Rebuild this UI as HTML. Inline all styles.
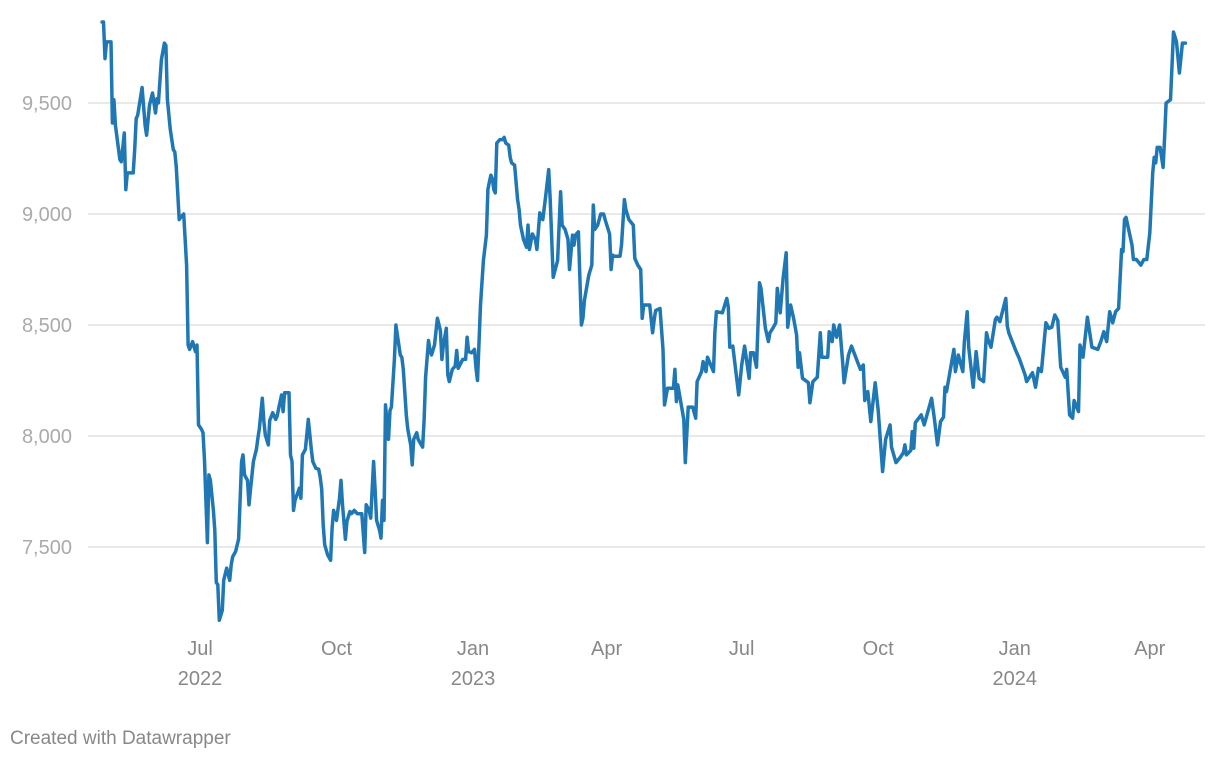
<!DOCTYPE html>
<html><head><meta charset="utf-8">
<style>
body{margin:0;background:#fff;width:1220px;height:760px;overflow:hidden;font-family:"Liberation Sans",Arial,sans-serif;}
svg text{font-family:"Liberation Sans",Arial,sans-serif;}
</style></head>
<body>
<svg id="chart" width="1220" height="760" xmlns="http://www.w3.org/2000/svg">
<g id="grid"></g>
<g id="yaxis"></g>
<g id="xaxis"></g>
<g id="series"></g>
<text x="10" y="744" font-size="19" fill="#888">Created with Datawrapper</text>
</svg>
<script>
// days since 2022-07-01
const days = [-66,-65,-64,-63,-60,-59,-58,-57,-54,-53,-51,-50,-49,-45,-44,-43,-42,-39,-37,-36,-34,-32,-30,-29,-28,-26,-24,-23,-22,-20,-18,-17,-16,-14,-13,-11,-9,-8,-7,-5,-3,-2,-1,1,2,3,5,6,7,9,10,11,12,13,15,16,18,20,21,22,24,26,28,29,30,32,33,34,36,38,39,40,42,43,44,46,47,49,51,52,53,55,56,57,59,60,61,62,63,64,67,68,69,71,73,75,76,78,80,81,82,83,84,86,88,89,90,92,94,95,96,98,99,101,102,104,106,107,109,111,112,114,115,117,118,119,121,122,123,124,125,127,128,129,131,132,135,136,137,139,140,142,143,144,146,147,150,151,152,154,155,156,158,160,162,163,164,166,167,168,170,172,173,174,177,179,180,181,183,185,186,187,189,191,193,194,195,196,197,198,199,200,202,204,205,206,208,209,210,212,214,215,216,218,220,221,222,224,226,227,229,231,233,235,236,238,241,243,244,246,248,249,251,252,253,255,257,258,259,262,264,265,266,268,270,272,273,276,277,278,279,283,284,286,287,289,292,293,295,297,298,299,301,303,305,306,307,310,312,313,315,319,320,321,322,326,327,329,332,334,335,338,339,341,342,346,347,348,352,355,356,357,359,363,365,367,370,371,373,375,377,378,381,383,384,386,388,389,391,393,395,396,398,400,402,403,404,406,410,411,413,416,418,419,423,424,426,427,429,431,433,434,437,439,443,445,447,448,450,452,455,457,460,462,465,466,469,472,474,475,476,479,480,481,482,486,488,493,495,497,499,501,502,503,508,509,511,514,515,517,518,521,523,525,528,530,531,533,536,537,539,543,544,545,550,552,556,557,561,563,565,567,570,572,574,576,578,580,583,584,586,588,589,592,593,595,598,601,605,607,609,611,613,615,617,619,621,622,623,624,628,629,631,634,636,638,640,642,643,644,645,647,649,650,651,654,656,658,660,662,664,665];
const values = [9865,9865,9700,9775,9775,9410,9515,9400,9245,9235,9365,9110,9185,9185,9290,9430,9445,9570,9400,9355,9490,9545,9455,9520,9500,9695,9770,9760,9515,9380,9290,9280,9210,8975,8985,9000,8770,8410,8390,8425,8380,8410,8050,8030,8015,7890,7520,7825,7800,7665,7575,7340,7330,7170,7215,7350,7405,7350,7420,7455,7480,7535,7885,7915,7825,7800,7690,7760,7885,7940,7990,8035,8170,8070,8005,7960,8070,8105,8075,8090,8125,8185,8110,8195,8195,8195,7915,7885,7665,7710,7765,7720,7915,7940,8075,7940,7885,7855,7850,7815,7760,7600,7510,7465,7440,7585,7665,7620,7720,7800,7690,7535,7615,7660,7650,7665,7650,7650,7650,7475,7690,7665,7630,7885,7760,7620,7575,7540,7710,7620,8140,7985,8115,8130,8345,8500,8365,8355,8300,8095,8030,7960,7870,7985,8015,7985,7950,8070,8265,8430,8385,8365,8410,8530,8475,8345,8410,8485,8275,8245,8300,8315,8385,8305,8345,8345,8445,8380,8375,8390,8305,8250,8590,8790,8905,9110,9145,9175,9160,9110,9095,9320,9335,9335,9345,9320,9310,9255,9230,9220,9065,9020,8950,8885,8850,8950,8840,8910,8885,8840,9005,8975,9085,9200,9065,8715,8790,9100,8950,8930,8885,8750,8905,8860,8905,8920,8500,8530,8610,8725,8770,9040,8930,8950,9000,9000,8975,8910,8750,8815,8810,8810,8860,9065,9020,8975,8950,8800,8770,8750,8530,8590,8590,8590,8465,8520,8565,8575,8390,8140,8215,8215,8300,8155,8230,8075,7880,8130,8130,8080,8245,8290,8335,8290,8355,8290,8470,8560,8555,8620,8580,8400,8405,8185,8320,8405,8260,8375,8375,8310,8690,8665,8485,8425,8465,8485,8510,8665,8555,8715,8825,8490,8590,8530,8455,8310,8375,8260,8240,8150,8245,8265,8465,8355,8355,8470,8425,8500,8445,8500,8335,8240,8365,8405,8335,8300,8320,8160,8200,8065,8240,8115,7840,7985,8050,7950,7880,7905,7925,7960,7915,7935,8020,7945,8060,8095,8050,8170,8070,7960,8065,8085,8220,8200,8390,8290,8365,8290,8420,8560,8400,8220,8380,8260,8245,8465,8435,8400,8525,8535,8515,8620,8495,8465,8380,8350,8275,8245,8285,8220,8305,8290,8510,8485,8490,8545,8520,8310,8265,8300,8095,8080,8160,8110,8410,8355,8535,8400,8390,8425,8470,8425,8560,8510,8560,8575,8840,8830,8975,8985,8860,8795,8795,8770,8795,8795,8915,9185,9255,9230,9300,9300,9210,9345,9500,9515,9820,9775,9635,9770,9770];
const yTicks = [7500,8000,8500,9000,9500];
const yTickLabels = ["7,500","8,000","8,500","9,000","9,500"];
const xTickDays = [0,92,184,274,365,457,549,640];
const xTickMonths = ["Jul","Oct","Jan","Apr","Jul","Oct","Jan","Apr"];
const xTickYears = ["2022","","2023","","","","2024",""];

const xs = d => 200 + d * 1.484;
const ys = v => 103 + (9500 - v) * 0.222;
const NS = "http://www.w3.org/2000/svg";
const grid = document.getElementById('grid'), yax = document.getElementById('yaxis'), xax = document.getElementById('xaxis'), ser = document.getElementById('series');

yTicks.forEach((t, i) => {
  const l = document.createElementNS(NS, 'line');
  l.setAttribute('x1', 88); l.setAttribute('x2', 1205);
  l.setAttribute('y1', ys(t)); l.setAttribute('y2', ys(t));
  l.setAttribute('stroke', '#e2e2e2'); l.setAttribute('stroke-width', 1.5);
  
  
  grid.appendChild(l);
  const tx = document.createElementNS(NS, 'text');
  tx.setAttribute('x', 72); tx.setAttribute('y', ys(t) + 7);
  tx.setAttribute('text-anchor', 'end'); tx.setAttribute('font-size', 20); tx.setAttribute('fill', '#aaa');
  tx.textContent = yTickLabels[i];
  
  
  yax.appendChild(tx);
});

xTickDays.forEach((d, i) => {
  const tx = document.createElementNS(NS, 'text');
  tx.setAttribute('x', xs(d)); tx.setAttribute('y', 655);
  tx.setAttribute('text-anchor', 'middle'); tx.setAttribute('font-size', 20); tx.setAttribute('fill', '#888');
  tx.textContent = xTickMonths[i];
  
  
  xax.appendChild(tx);
  if (xTickYears[i]) {
    const ty = document.createElementNS(NS, 'text');
    ty.setAttribute('x', xs(d)); ty.setAttribute('y', 685);
    ty.setAttribute('text-anchor', 'middle'); ty.setAttribute('font-size', 20); ty.setAttribute('fill', '#888');
    ty.textContent = xTickYears[i];
    
    
    xax.appendChild(ty);
  }
});

const p = document.createElementNS(NS, 'path');
p.setAttribute('d', days.map((d, i) => (i ? 'L' : 'M') + xs(d).toFixed(1) + ',' + ys(values[i]).toFixed(1)).join(''));
p.setAttribute('fill', 'none'); p.setAttribute('stroke', '#1f77b4'); p.setAttribute('stroke-width', 3.5);
p.setAttribute('stroke-linejoin', 'round'); p.setAttribute('stroke-linecap', 'round');


ser.appendChild(p);
</script>
</body></html>
